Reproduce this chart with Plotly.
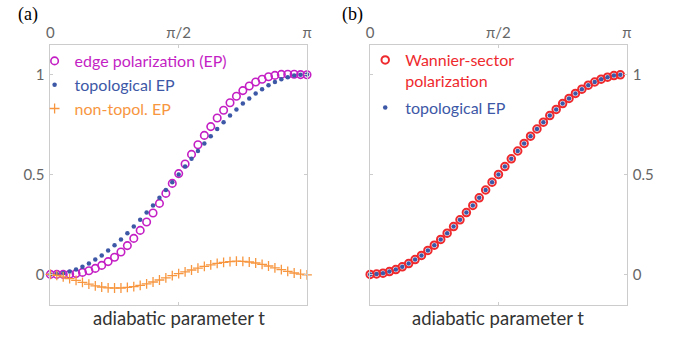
import math
import plotly.graph_objects as go

# ---------------- data ----------------
# panel (a): t = k*pi/40, k = 0..40
t_a_index = list(range(41))
topo_ep_a = [0.000, 0.002, 0.006, 0.014, 0.024, 0.038, 0.054, 0.074, 0.095, 0.120,
             0.146, 0.175, 0.206, 0.239, 0.273, 0.309, 0.345, 0.383, 0.422, 0.461,
             0.500, 0.539, 0.578, 0.617, 0.655, 0.691, 0.727, 0.761, 0.794, 0.825,
             0.854, 0.880, 0.905, 0.926, 0.946, 0.962, 0.976, 0.986, 0.994, 0.998, 1.000]
nontopo_ep_a = [0.000, -0.005, -0.012, -0.021, -0.030, -0.040, -0.049, -0.057, -0.063, -0.067,
                -0.068, -0.068, -0.065, -0.061, -0.055, -0.047, -0.038, -0.028, -0.017, -0.006,
                0.004, 0.013, 0.022, 0.031, 0.040, 0.048, 0.055, 0.060, 0.064, 0.066,
                0.065, 0.062, 0.057, 0.050, 0.042, 0.033, 0.024, 0.015, 0.007, 0.001, -0.002]
edge_pol_a = [0.000, 0.000, 0.000, 0.001, 0.004, 0.010, 0.018, 0.030, 0.045, 0.064,
              0.086, 0.112, 0.144, 0.180, 0.220, 0.262, 0.307, 0.355, 0.405, 0.455,
              0.504, 0.552, 0.600, 0.648, 0.695, 0.739, 0.782, 0.821, 0.858, 0.891,
              0.919, 0.942, 0.962, 0.976, 0.988, 0.995, 1.000, 1.001, 1.001, 0.999, 0.998]

# panel (b): t = k*pi/40, k = 0..39
t_b_index = list(range(40))
wannier_b = [0.000, 0.002, 0.006, 0.014, 0.024, 0.038, 0.054, 0.074, 0.095, 0.120,
             0.146, 0.175, 0.206, 0.239, 0.273, 0.309, 0.345, 0.383, 0.422, 0.461,
             0.500, 0.539, 0.578, 0.617, 0.655, 0.691, 0.727, 0.761, 0.794, 0.825,
             0.854, 0.880, 0.905, 0.926, 0.946, 0.962, 0.976, 0.986, 0.994, 0.998]
topo_ep_b = [0.000, 0.002, 0.006, 0.014, 0.024, 0.038, 0.054, 0.074, 0.095, 0.120,
             0.146, 0.175, 0.206, 0.239, 0.273, 0.309, 0.345, 0.383, 0.422, 0.461,
             0.500, 0.539, 0.578, 0.617, 0.655, 0.691, 0.727, 0.761, 0.794, 0.825,
             0.854, 0.880, 0.905, 0.926, 0.946, 0.962, 0.976, 0.986, 0.994, 0.998]

x_tick_vals = [0, math.pi / 2, math.pi]
x_tick_text = ["0", "π/2", "π"]
y_tick_vals = [0, 0.5, 1]
y_tick_text = ["0", "0.5", "1"]

t_a = [k * math.pi / 40 for k in t_a_index]
t_b = [k * math.pi / 40 for k in t_b_index]

MAGENTA = "#c41fc4"
BLUE = "#3d58a6"
ORANGE = "#f7963f"
RED = "#ee2a2e"
FONT = "Lato"

def span(c, s):
    return f"<span style='color:{c}'>{s}</span>"

fig = go.Figure()

fig.add_trace(go.Scatter(x=t_a, y=edge_pol_a, mode="markers", xaxis="x", yaxis="y",
                         name=span(MAGENTA, "edge polarization (EP)"), legend="legend",
                         marker=dict(symbol="circle-open", size=7.5, color=MAGENTA, line=dict(width=1.6, color=MAGENTA)),
                         cliponaxis=False))
fig.add_trace(go.Scatter(x=t_a, y=topo_ep_a, mode="markers", xaxis="x", yaxis="y",
                         name=span(BLUE, "topological EP"), legend="legend",
                         marker=dict(symbol="circle", size=4.5, color=BLUE), cliponaxis=False))
fig.add_trace(go.Scatter(x=t_a, y=nontopo_ep_a, mode="markers", xaxis="x", yaxis="y",
                         name=span(ORANGE, "non-topol. EP"), legend="legend",
                         marker=dict(symbol="cross-thin-open", size=7, color=ORANGE, line=dict(width=1.3, color=ORANGE)),
                         cliponaxis=False))

fig.add_trace(go.Scatter(x=t_b, y=wannier_b, mode="markers", xaxis="x2", yaxis="y2",
                         name=span(RED, "Wannier-sector<br>polarization"), legend="legend2", legendgroup="w",
                         marker=dict(symbol="circle-open", size=7.5, color=RED, line=dict(width=2, color=RED)),
                         cliponaxis=False))
fig.add_trace(go.Scatter(x=t_b, y=topo_ep_b, mode="markers", xaxis="x2", yaxis="y2",
                         name=span(BLUE, "topological EP"), legend="legend2", legendgroup="t",
                         marker=dict(symbol="circle", size=4.5, color=BLUE), cliponaxis=False))

W, H = 690, 339
ax_common = dict(showgrid=False, zeroline=False, showline=True, linecolor="#cccccc", linewidth=1,
                 mirror="allticks", ticks="inside", ticklen=3, tickcolor="#cccccc",
                 tickfont=dict(family=FONT, size=15, color="#666666"))
xr = [0, math.pi]
yr = [-0.153, 1.147]
ydom = [1 - 305 / H, 1 - 45 / H]

fig.update_layout(
    width=W, height=H, margin=dict(l=0, r=0, t=0, b=0),
    paper_bgcolor="white", plot_bgcolor="white",
    font=dict(family=FONT),
    xaxis=dict(domain=[47 / W, 307 / W], range=xr, side="top", tickvals=x_tick_vals, ticktext=x_tick_text,
               anchor="y", **ax_common),
    yaxis=dict(domain=ydom, range=yr, side="left", tickvals=y_tick_vals, ticktext=y_tick_text,
               anchor="x", ticklabelstandoff=2, **ax_common),
    xaxis2=dict(domain=[371 / W, 631 / W], range=xr, side="top", tickvals=x_tick_vals, ticktext=x_tick_text,
                anchor="y2", **ax_common),
    yaxis2=dict(domain=ydom, range=yr, side="right", tickvals=y_tick_vals, ticktext=y_tick_text,
                anchor="x2", ticklabelstandoff=2, **ax_common),
    legend=dict(x=31 / W, y=1 - 44 / H, xanchor="left", yanchor="top", bgcolor="rgba(0,0,0,0)",
                font=dict(family=FONT, size=16), itemwidth=30, tracegroupgap=0, valign="middle"),
    legend2=dict(x=366 / W, y=1 - 43 / H, xanchor="left", yanchor="top", bgcolor="rgba(0,0,0,0)",
                 font=dict(family=FONT, size=16), itemwidth=30, tracegroupgap=3, valign="top"),
    annotations=[
        dict(text="(a)", x=12 / W, y=1 - 14 / H, xref="paper", yref="paper", xanchor="left", yanchor="middle",
             showarrow=False, font=dict(family="Liberation Serif", size=18, color="black")),
        dict(text="(b)", x=340 / W, y=1 - 14 / H, xref="paper", yref="paper", xanchor="left", yanchor="middle",
             showarrow=False, font=dict(family="Liberation Serif", size=18, color="black")),
        dict(text="adiabatic parameter t", x=177 / W, y=1 - 318 / H, xref="paper", yref="paper",
             xanchor="center", yanchor="middle", showarrow=False,
             font=dict(family=FONT, size=18.5, color="#333333")),
        dict(text="adiabatic parameter t", x=501 / W, y=1 - 318 / H, xref="paper", yref="paper",
             xanchor="center", yanchor="middle", showarrow=False,
             font=dict(family=FONT, size=18.5, color="#333333")),
    ],
)

fig.write_html("out.html", config={"displayModeBar": False},
               post_script="document.body.style.margin='0';document.body.style.overflow='hidden';")
